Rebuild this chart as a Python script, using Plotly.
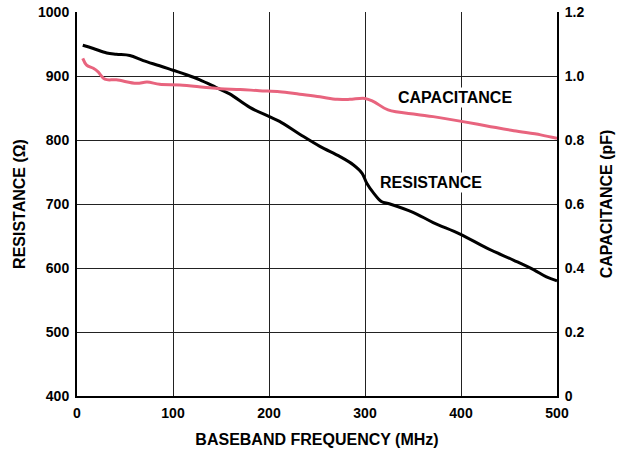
import plotly.graph_objects as go

# resistance curve (MHz, ohm)
res_freq = [6, 17, 31, 41, 55, 69, 86, 100, 114, 128, 145, 159, 180, 201, 211, 232,
            253, 274, 288, 297, 302, 309, 317, 326, 350, 371, 399, 427, 455, 476, 489, 500]
res_ohm = [948, 943, 936, 934, 932, 924, 916, 909, 902, 894, 882, 872, 851, 836, 829, 809,
           790, 774, 761, 748, 732, 717, 704, 700, 687, 671, 653, 631, 612, 597, 586, 580]

# capacitance curve (MHz, pF)
cap_freq = [6, 10, 17, 22, 29, 41, 62, 73, 86, 107, 132, 149, 170, 190, 211, 232,
            253, 271, 284, 300, 309, 324, 354, 371, 399, 427, 455, 483, 500]
cap_pf = [1.055, 1.034, 1.024, 1.013, 0.990, 0.988, 0.977, 0.981, 0.974, 0.972, 0.965, 0.960,
          0.958, 0.954, 0.951, 0.943, 0.935, 0.927, 0.927, 0.930, 0.920, 0.894, 0.880, 0.873,
          0.859, 0.844, 0.829, 0.816, 0.805]

freq_ticks = [0, 100, 200, 300, 400, 500]
freq_labels = ['0', '100', '200', '300', '400', '500']
res_ticks = [400, 500, 600, 700, 800, 900, 1000]
res_labels = ['400', '500', '600', '700', '800', '900', '1000']
cap_ticks = [0, 0.2, 0.4, 0.6, 0.8, 1.0, 1.2]
cap_labels = ['0', '0.2', '0.4', '0.6', '0.8', '1.0', '1.2']


def bold(labels):
    return ['<b>%s</b>' % t for t in labels]


tick_font = dict(family='Liberation Sans, Arial, sans-serif', size=14, color='black')

fig = go.Figure()
fig.add_trace(go.Scatter(x=res_freq, y=res_ohm, mode='lines', line=dict(color='black', width=3),
                         line_shape='spline', showlegend=False))
fig.add_trace(go.Scatter(x=cap_freq, y=cap_pf, mode='lines', line=dict(color='#e8647e', width=3),
                         line_shape='spline', yaxis='y2', showlegend=False))

fig.update_layout(
    width=628, height=451, margin=dict(l=77, r=71, t=12, b=55),
    paper_bgcolor='white', plot_bgcolor='white',
    font=dict(family='Liberation Sans, Arial, sans-serif', size=13, color='black'),
    xaxis=dict(range=[0, 500], tickvals=freq_ticks, ticktext=bold(freq_labels),
               showgrid=True, gridcolor='#222', gridwidth=1,
               showline=True, linecolor='black', linewidth=2, zeroline=False, ticks='',
               automargin=False, tickfont=tick_font, ticklabelstandoff=3,
               title=dict(text='<b>BASEBAND FREQUENCY (MHz)</b>', standoff=14)),
    yaxis=dict(range=[400, 1000], tickvals=res_ticks, ticktext=bold(res_labels),
               showgrid=True, gridcolor='#222', gridwidth=1,
               showline=True, linecolor='black', linewidth=2, zeroline=False, ticks='',
               automargin=False, tickfont=tick_font, ticklabelstandoff=3,
               title=dict(text='<b>RESISTANCE (Ω)</b>', standoff=8)),
    yaxis2=dict(range=[0, 1.2], tickvals=cap_ticks, ticktext=bold(cap_labels), overlaying='y',
                side='right', showgrid=False, showline=True, linecolor='black', linewidth=2,
                zeroline=False, ticks='', automargin=False, tickfont=tick_font,
                ticklabelstandoff=3,
                title=dict(text='<b>CAPACITANCE (pF)</b>', standoff=17)),
)

fig.add_annotation(x=394, y=0.934, xref='x', yref='y2', text='<b>CAPACITANCE</b>',
                   showarrow=False, font=dict(size=16), bgcolor='white')
fig.add_annotation(x=369, y=0.666, xref='x', yref='y2', text='<b>RESISTANCE</b>',
                   showarrow=False, font=dict(size=16), bgcolor='white')

# page body has a default 8px margin; drop it so the figure sits at the window corner
fig.write_html("out.html", config={'displayModeBar': False},
               post_script="document.body.style.margin='0';")
